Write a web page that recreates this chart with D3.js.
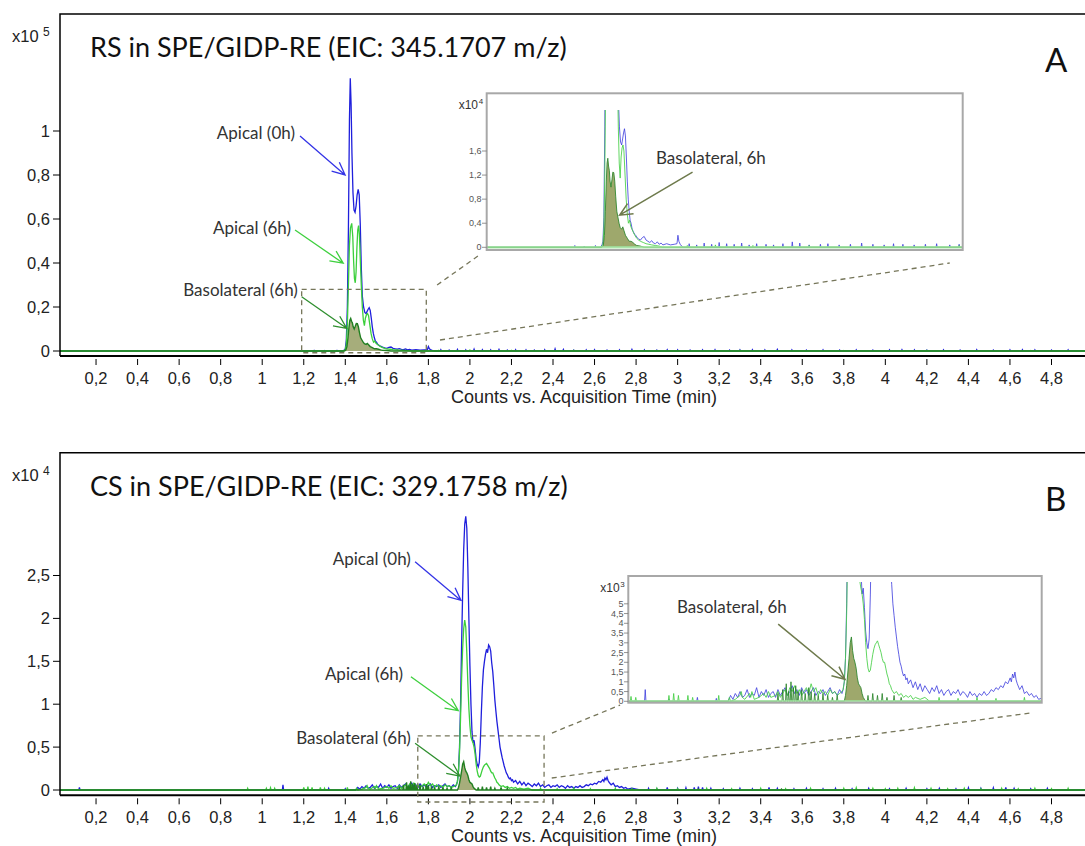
<!DOCTYPE html>
<html>
<head>
<meta charset="utf-8">
<script src="https://d3js.org/d3.v7.min.js"></script>
<style>
  body { margin: 0; background: #fff; }
  svg { display: block; }
  .tick { font-family: "Liberation Sans", Arial, sans-serif; font-size: 16.5px; fill: #222; }
  .axis-title { font-family: "Liberation Sans", Arial, sans-serif; font-size: 18px; fill: #222; }
  .title { font-family: Lato, sans-serif; font-size: 27px; fill: #111; }
  .letter { font-family: Lato, sans-serif; font-size: 33px; fill: #111; }
  .note { font-family: Lato, sans-serif; font-size: 17px; fill: #333; }
  .inset-tick { font-family: "Liberation Sans", Arial, sans-serif; font-size: 9px; fill: #555; }
  .inset-exp { font-family: "Liberation Sans", Arial, sans-serif; font-size: 12px; fill: #333; }
  .inset-note { font-family: Lato, sans-serif; font-size: 17px; fill: #333; }
</style>
</head>
<body>
<svg id="chart" width="1085" height="846"></svg>
<script>
// ---- axis ticks ----
const xTicks = [0.2, 0.4, 0.6, 0.8, 1, 1.2, 1.4, 1.6, 1.8, 2, 2.2, 2.4, 2.6, 2.8, 3, 3.2, 3.4, 3.6, 3.8, 4, 4.2, 4.4, 4.6, 4.8];
const yTicksA = [0, 0.2, 0.4, 0.6, 0.8, 1];
const yTicksB = [0, 0.5, 1, 1.5, 2, 2.5];
const insetTicksA = [0, 0.4, 0.8, 1.2, 1.6];
const insetTicksB = [0, 0.5, 1, 1.5, 2, 2.5, 3, 3.5, 4, 4.5, 5];
const titleA = "RS in SPE/GIDP-RE (EIC: 345.1707 m/z)";
const titleB = "CS in SPE/GIDP-RE (EIC: 329.1758 m/z)";
const xTitle = "Counts vs. Acquisition Time (min)";

// ---- panel A, counts x10^5, [time, value] ----
const blueA = [[1.385,0],[1.395,0.004],[1.400,0.010],[1.405,0.050],[1.410,0.200],[1.415,0.550],[1.420,1.050],[1.424,1.240],[1.428,1.120],[1.432,0.900],[1.437,0.720],[1.442,0.640],[1.447,0.630],[1.452,0.660],[1.457,0.710],[1.462,0.735],[1.467,0.710],[1.472,0.580],[1.477,0.380],[1.482,0.250],[1.488,0.200],[1.494,0.175],[1.500,0.170],[1.505,0.180],[1.510,0.190],[1.515,0.197],[1.520,0.185],[1.525,0.150],[1.530,0.110],[1.535,0.080],[1.540,0.060],[1.545,0.045],[1.550,0.040],[1.556,0.030],[1.562,0.026],[1.568,0.022],[1.575,0.020],[1.582,0.016],[1.590,0.014],[1.600,0.012],[1.610,0.016],[1.620,0.018],[1.630,0.012],[1.640,0.010],[1.650,0.008],[1.660,0.011],[1.670,0.007],[1.680,0.006],[1.690,0.009],[1.700,0.005],[1.710,0.007],[1.720,0.004],[1.740,0.006],[1.760,0.004],[1.780,0.005],[1.795,0.006],[1.800,0.020],[1.805,0.010],[1.812,0.005],[1.820,0.002],[1.830,0]];
const blueANoise = [[1.25,0.003],[1.30,0.002],[1.36,0.003],[1.86,0.006],[1.90,0.004],[1.94,0.007],[1.98,0.005],[2.02,0.008],[2.06,0.006],[2.10,0.005],[2.14,0.007],[2.18,0.004],[2.22,0.006],[2.27,0.005],[2.31,0.004],[2.36,0.006],[2.41,0.009],[2.45,0.007],[2.50,0.004],[2.56,0.005],[2.60,0.006],[2.66,0.004],[2.72,0.005],[2.78,0.007],[2.84,0.005],[2.90,0.004],[2.95,0.006],[3.00,0.005],[3.06,0.004],[3.12,0.005],[3.18,0.006],[3.25,0.004],[3.30,0.005],[3.36,0.006],[3.42,0.005],[3.48,0.007],[3.55,0.005],[3.62,0.004],[3.70,0.005],[3.78,0.004],[3.86,0.005],[3.94,0.004],[4.02,0.005],[4.08,0.006],[4.14,0.005],[4.20,0.004],[4.28,0.005],[4.36,0.004],[4.44,0.006],[4.52,0.004],[4.60,0.005],[4.66,0.006],[4.72,0.005],[4.80,0.004],[4.88,0.005]];
const greenA = [[1.390,0],[1.400,0.005],[1.405,0.030],[1.410,0.120],[1.415,0.300],[1.420,0.480],[1.425,0.560],[1.431,0.580],[1.436,0.520],[1.440,0.410],[1.444,0.330],[1.448,0.310],[1.452,0.360],[1.456,0.470],[1.460,0.550],[1.464,0.570],[1.468,0.530],[1.472,0.420],[1.477,0.300],[1.482,0.200],[1.487,0.140],[1.492,0.115],[1.497,0.150],[1.502,0.165],[1.507,0.170],[1.512,0.160],[1.518,0.120],[1.524,0.080],[1.530,0.055],[1.536,0.040],[1.542,0.045],[1.548,0.035],[1.555,0.030],[1.562,0.025],[1.570,0.020],[1.580,0.015],[1.590,0.012],[1.600,0.010],[1.615,0.008],[1.630,0.006],[1.645,0.005],[1.660,0.004],[1.680,0.003],[1.700,0.002],[1.720,0]];
const greenANoise = [[1.85,0.003],[2.00,0.004],[2.20,0.003],[2.50,0.003],[2.90,0.002],[3.30,0.003],[3.80,0.002],[4.20,0.003],[4.70,0.002]];
const darkA = [[1.395,0],[1.402,0.003],[1.408,0.020],[1.413,0.060],[1.418,0.110],[1.422,0.140],[1.426,0.148],[1.430,0.135],[1.434,0.128],[1.438,0.110],[1.443,0.100],[1.448,0.112],[1.453,0.125],[1.458,0.124],[1.463,0.110],[1.468,0.085],[1.474,0.060],[1.480,0.050],[1.486,0.040],[1.492,0.033],[1.500,0.030],[1.506,0.034],[1.512,0.028],[1.520,0.020],[1.530,0.015],[1.540,0.010],[1.550,0.010],[1.560,0.008],[1.570,0.005],[1.580,0.003],[1.600,0.002],[1.620,0]];
const darkANoise = [];

// ---- panel B, counts x10^4, [time, value] ----
const blueB = [[1.450,0],[1.460,0.03],[1.470,0.01],[1.480,0.04],[1.490,0.02],[1.500,0.05],[1.510,0.02],[1.520,0.03],[1.530,0.06],[1.540,0.02],[1.550,0.04],[1.560,0.03],[1.570,0.07],[1.580,0.02],[1.590,0.05],[1.600,0.03],[1.610,0.06],[1.620,0.02],[1.630,0.04],[1.640,0.05],[1.650,0.02],[1.660,0.06],[1.670,0.03],[1.680,0.05],[1.690,0.07],[1.700,0.03],[1.710,0.05],[1.720,0.08],[1.730,0.04],[1.740,0.06],[1.750,0.03],[1.760,0.07],[1.770,0.04],[1.780,0.06],[1.790,0.03],[1.800,0.05],[1.810,0.07],[1.820,0.03],[1.830,0.05],[1.840,0.04],[1.850,0.06],[1.860,0.03],[1.870,0.05],[1.880,0.07],[1.890,0.04],[1.900,0.05],[1.910,0.03],[1.920,0.06],[1.930,0.04],[1.935,0.06],[1.940,0.10],[1.945,0.22],[1.950,0.50],[1.955,1.00],[1.960,1.70],[1.965,2.30],[1.970,2.80],[1.975,3.10],[1.980,3.19],[1.985,3.05],[1.990,2.60],[1.995,2.00],[2.000,1.45],[2.005,1.00],[2.010,0.68],[2.015,0.55],[2.020,0.58],[2.025,0.48],[2.030,0.36],[2.035,0.30],[2.040,0.27],[2.045,0.32],[2.050,0.55],[2.055,0.90],[2.060,1.20],[2.065,1.40],[2.070,1.50],[2.075,1.58],[2.080,1.64],[2.085,1.60],[2.090,1.69],[2.095,1.67],[2.100,1.62],[2.105,1.48],[2.110,1.38],[2.115,1.22],[2.120,1.05],[2.125,0.92],[2.130,0.80],[2.135,0.70],[2.140,0.60],[2.145,0.50],[2.150,0.44],[2.155,0.38],[2.160,0.33],[2.165,0.28],[2.170,0.24],[2.175,0.20],[2.180,0.18],[2.185,0.15],[2.190,0.13],[2.195,0.14],[2.200,0.11],[2.205,0.12],[2.210,0.09],[2.220,0.11],[2.230,0.07],[2.240,0.10],[2.250,0.06],[2.260,0.09],[2.270,0.05],[2.280,0.08],[2.290,0.06],[2.300,0.04],[2.310,0.07],[2.320,0.05],[2.330,0.08],[2.340,0.04],[2.350,0.06],[2.360,0.03],[2.370,0.05],[2.380,0.06],[2.390,0.03],[2.400,0.05],[2.410,0.04],[2.420,0.06],[2.430,0.03],[2.440,0.05],[2.450,0.04],[2.460,0.02],[2.470,0.05],[2.480,0.03],[2.490,0.04],[2.500,0.02],[2.510,0.04],[2.520,0.03],[2.530,0.05],[2.540,0.03],[2.550,0.04],[2.560,0.06],[2.570,0.05],[2.580,0.07],[2.590,0.06],[2.600,0.08],[2.610,0.07],[2.620,0.10],[2.630,0.09],[2.640,0.12],[2.645,0.10],[2.650,0.14],[2.655,0.12],[2.660,0.15],[2.665,0.11],[2.670,0.09],[2.680,0.06],[2.690,0.08],[2.700,0.04],[2.710,0.05],[2.720,0.03],[2.730,0.04],[2.740,0.02],[2.750,0.03],[2.760,0.01],[2.780,0.02],[2.800,0.01],[2.820,0]];
const blueBNoise = [[0.12,0.03],[1.10,0.06],[1.20,0.01],[1.32,0.02],[1.40,0.015],[2.86,0.02],[2.90,0.015],[2.95,0.03],[3.00,0.02],[3.04,0.025],[3.08,0.03],[3.10,0.04],[3.12,0.03],[3.16,0.02],[3.22,0.015],[3.30,0.02],[3.36,0.015],[3.44,0.03],[3.48,0.02],[3.56,0.015],[3.62,0.02],[3.70,0.015],[3.76,0.02],[3.84,0.015],[3.92,0.02],[4.02,0.015],[4.10,0.02],[4.20,0.015],[4.26,0.02],[4.34,0.015],[4.40,0.025],[4.46,0.02],[4.52,0.025],[4.58,0.03],[4.62,0.02],[4.70,0.015],[4.78,0.02]];
const greenB = [[1.450,0],[1.455,0.02],[1.460,0],[1.480,0.01],[1.500,0.03],[1.505,0.05],[1.510,0.02],[1.520,0.01],[1.540,0.04],[1.545,0.02],[1.550,0.05],[1.560,0.01],[1.580,0.02],[1.600,0.04],[1.610,0.02],[1.620,0.05],[1.630,0.02],[1.650,0.03],[1.660,0.05],[1.670,0.02],[1.680,0.04],[1.690,0.06],[1.700,0.03],[1.710,0.07],[1.720,0.05],[1.730,0.08],[1.740,0.04],[1.750,0.06],[1.760,0.03],[1.770,0.05],[1.780,0.07],[1.790,0.04],[1.800,0.09],[1.810,0.05],[1.820,0.07],[1.830,0.03],[1.840,0.06],[1.850,0.04],[1.860,0.05],[1.870,0.03],[1.880,0.06],[1.890,0.04],[1.900,0.05],[1.910,0.03],[1.920,0.04],[1.930,0.05],[1.935,0.06],[1.940,0.10],[1.945,0.22],[1.950,0.45],[1.955,0.85],[1.960,1.30],[1.965,1.65],[1.970,1.88],[1.975,1.98],[1.980,1.90],[1.985,1.60],[1.990,1.25],[1.995,0.95],[2.000,0.75],[2.005,0.62],[2.010,0.58],[2.015,0.55],[2.020,0.50],[2.025,0.42],[2.030,0.30],[2.035,0.22],[2.040,0.17],[2.045,0.15],[2.050,0.16],[2.055,0.20],[2.060,0.24],[2.065,0.27],[2.070,0.29],[2.075,0.30],[2.080,0.31],[2.085,0.29],[2.090,0.27],[2.095,0.25],[2.100,0.22],[2.105,0.20],[2.110,0.20],[2.115,0.17],[2.120,0.14],[2.125,0.12],[2.130,0.09],[2.135,0.08],[2.140,0.06],[2.150,0.04],[2.160,0.05],[2.170,0.03],[2.180,0.04],[2.190,0.02],[2.200,0.03],[2.210,0.02],[2.220,0.03],[2.230,0.01],[2.240,0.02],[2.260,0.01],[2.280,0.02],[2.300,0]];
const greenBNoise = [[0.93,0.02],[1.02,0.02],[1.04,0.025],[1.06,0.02],[1.20,0.03],[1.22,0.04],[1.24,0.03],[1.28,0.03],[1.30,0.02],[1.41,0.03],[2.34,0.02],[2.42,0.015],[2.50,0.02],[2.58,0.015],[2.70,0.02],[2.78,0.015],[2.90,0.02],[3.00,0.015],[3.14,0.02],[3.26,0.015],[3.40,0.02],[3.52,0.015],[3.64,0.02],[3.80,0.02],[3.86,0.025],[3.94,0.02],[4.00,0.015],[4.06,0.02],[4.14,0.025],[4.22,0.02],[4.30,0.015],[4.38,0.02],[4.46,0.015],[4.56,0.02],[4.64,0.015],[4.72,0.02],[4.80,0.015],[4.88,0.02]];
const darkB = [[1.940,0],[1.945,0.03],[1.950,0.08],[1.955,0.15],[1.960,0.22],[1.965,0.30],[1.970,0.33],[1.975,0.26],[1.980,0.22],[1.985,0.20],[1.990,0.17],[1.995,0.12],[2.000,0.09],[2.005,0.08],[2.010,0.07],[2.015,0.04],[2.020,0.02],[2.025,0.01],[2.030,0]];
const darkBNoise = [[1.66,0.04],[1.68,0.06],[1.695,0.09],[1.705,0.05],[1.715,0.10],[1.725,0.07],[1.735,0.08],[1.745,0.05],[1.76,0.06],[1.775,0.04],[1.79,0.07],[1.80,0.05],[1.815,0.04],[1.83,0.03],[1.85,0.04],[1.87,0.03],[1.89,0.02],[1.91,0.03],[2.04,0.03],[2.06,0.04],[2.08,0.03],[2.10,0.04],[2.12,0.02],[2.15,0.03],[2.18,0.02],[3.10,0.01],[3.50,0.01]];

// ---- drawing ----
const BLUE = "#1f1fdc", GREEN = "#3ccf3c", DARK = "#217f21", FILL = "#a6ad7b", OLIVE = "#6e7a4c", DASH = "#76765a";
const T0 = 0.0265, T1 = 4.9615;
const fmt = v => String(v).replace(".", ",");

// turn peak profile + single noise spikes into one sorted trace
function buildSeries(profile, spikes) {
  const lo = profile[0][0], hi = profile[profile.length - 1][0];
  const pts = profile.slice();
  spikes.forEach(([t, h]) => {
    if (t > lo - 0.005 && t < hi + 0.005) return;
    pts.push([t - 0.003, 0], [t, h], [t + 0.003, 0]);
  });
  pts.push([T0, 0], [T1, 0]);
  return pts.sort((a, b) => a[0] - b[0]);
}

function arrow(g, p0, p1, color, width) {
  const ang = Math.atan2(p1[1] - p0[1], p1[0] - p0[0]);
  const len = 14, spread = 25 * Math.PI / 180;
  const w1 = [p1[0] - len * Math.cos(ang - spread), p1[1] - len * Math.sin(ang - spread)];
  const w2 = [p1[0] - len * Math.cos(ang + spread), p1[1] - len * Math.sin(ang + spread)];
  g.append("path").attr("d", `M${p0}L${p1}M${w1}L${p1}L${w2}`)
    .attr("fill", "none").attr("stroke", color).attr("stroke-width", width);
}

const svg = d3.select("#chart");
const x = d3.scaleLinear().domain([0, 4.8]).range([54.5, 1051.5]);

const panels = [
  { id: "A", top: 14, axisY: 356, y: d3.scaleLinear().domain([0, 1]).range([351, 131]),
    yTicks: yTicksA, exp: "5", title: titleA,
    blue: buildSeries(blueA, blueANoise), green: buildSeries(greenA, greenANoise),
    dark: buildSeries(darkA, darkANoise), peak: darkA,
    notes: [
      { text: "Apical (0h)", at: [1.158, 0.99], from: [1.182, 0.977], to: [1.399, 0.80], color: "#3434e6" },
      { text: "Apical (6h)", at: [1.139, 0.559], from: [1.158, 0.55], to: [1.39, 0.399], color: "#3fd03f" },
      { text: "Basolateral (6h)", at: [1.172, 0.277], from: [1.19, 0.247], to: [1.407, 0.103], color: "#2f8f2f" }
    ],
    box: [1.19, 1.79, -0.008, 0.28],
    links: [[[1.842, 0.30], [2.039, 0.432]], [[1.856, 0.05], [4.31, 0.40]]],
    inset: { x0: 486.7, x1: 962.7, y0: 93.3, y1: 250, clipTop: 110, tDom: [0.78, 3.319],
      yZero: 247.3, yTop: 151, yMax: 1.6, ticks: insetTicksA, exp: "4", tickRight: 482,
      note: { at: [1.683, 1.487], from: [1.878, 1.25], to: [1.489, 0.533] } } },
  { id: "B", top: 452.7, axisY: 795.3, y: d3.scaleLinear().domain([0, 2.5]).range([790, 575.5]),
    yTicks: yTicksB, exp: "4", title: titleB,
    blue: buildSeries(blueB, blueBNoise), green: buildSeries(greenB, greenBNoise),
    dark: buildSeries(darkB, darkBNoise), peak: darkB,
    notes: [
      { text: "Apical (0h)", at: [1.716, 2.69], from: [1.736, 2.66], to: [1.957, 2.21], color: "#3434e6" },
      { text: "Apical (6h)", at: [1.678, 1.35], from: [1.716, 1.32], to: [1.944, 0.924], color: "#3fd03f" },
      { text: "Basolateral (6h)", at: [1.716, 0.61], from: [1.736, 0.544], to: [1.952, 0.163], color: "#2f8f2f" }
    ],
    box: [1.749, 2.357, -0.14, 0.63],
    links: [[[2.395, 0.664], [2.723, 0.99]], [[2.394, 0.14], [4.705, 0.90]]],
    inset: { x0: 628.3, x1: 1041.7, y0: 576, y1: 702.7, clipTop: 582, tDom: [1.0285, 2.773],
      yZero: 701.3, yTop: 603.8, yMax: 5, ticks: insetTicksB, exp: "3", tickRight: 624,
      note: { at: [1.234, 4.85], from: [1.661, 3.96], to: [1.943, 1.13] } } }
];

panels.forEach(p => {
  const g = svg.append("g");
  const y = p.y;
  const clipId = "clip" + p.id;
  g.append("clipPath").attr("id", clipId).append("rect")
    .attr("x", 60).attr("y", p.top).attr("width", 1025).attr("height", p.axisY - p.top);

  // traces
  const line = d3.line().x(d => x(d[0])).y(d => y(d[1]));
  const area = d3.area().x(d => x(d[0])).y0(y(0)).y1(d => y(d[1]));
  const tr = g.append("g").attr("clip-path", `url(#${clipId})`);
  tr.append("path").datum(p.peak).attr("d", area).attr("fill", FILL);
  tr.append("path").datum(p.blue).attr("d", line).attr("fill", "none").attr("stroke", BLUE).attr("stroke-width", 1.3);
  tr.append("path").datum(p.green).attr("d", line).attr("fill", "none").attr("stroke", GREEN).attr("stroke-width", 1.3);
  tr.append("path").datum(p.dark).attr("d", line).attr("fill", "none").attr("stroke", DARK).attr("stroke-width", 1.4);

  // frame and axes
  g.append("path").attr("d", `M1085,${p.top}H60V${p.axisY}`).attr("fill", "none").attr("stroke", "#000").attr("stroke-width", 1.5);
  g.append("line").attr("x1", 60).attr("x2", 1085).attr("y1", p.axisY).attr("y2", p.axisY).attr("stroke", "#000").attr("stroke-width", 2);
  p.yTicks.forEach(v => {
    g.append("line").attr("x1", 53).attr("x2", 60).attr("y1", y(v)).attr("y2", y(v)).attr("stroke", "#000");
    g.append("text").attr("class", "tick").attr("x", 50).attr("y", y(v)).attr("dy", "0.36em")
      .attr("text-anchor", "end").text(fmt(v));
  });
  xTicks.forEach(t => {
    g.append("line").attr("x1", x(t)).attr("x2", x(t)).attr("y1", p.axisY + 3).attr("y2", p.axisY + 9).attr("stroke", "#000");
    g.append("text").attr("class", "tick").attr("x", x(t)).attr("y", p.axisY + 28)
      .attr("text-anchor", "middle").text(fmt(t));
  });
  g.append("text").attr("class", "axis-title").attr("x", 584).attr("y", p.axisY + 47)
    .attr("text-anchor", "middle").text(xTitle);
  g.append("text").attr("class", "tick").attr("x", 12).attr("y", p.top + 28).text("x10");
  g.append("text").attr("class", "tick").attr("x", 43).attr("y", p.top + 22).style("font-size", "12px").text(p.exp);
  g.append("text").attr("class", "title").attr("x", 90).attr("y", p.top + 43).text(p.title);
  g.append("text").attr("class", "letter").attr("x", 1045).attr("y", p.top + 58).text(p.id);

  // annotations
  p.notes.forEach(n => {
    g.append("text").attr("class", "note").attr("x", x(n.at[0])).attr("y", y(n.at[1])).attr("dy", "0.35em")
      .attr("text-anchor", "end").text(n.text);
    arrow(g, [x(n.from[0]), y(n.from[1])], [x(n.to[0]), y(n.to[1])], n.color, 1.3);
  });

  // zoom box and connector lines
  const [b0, b1, v0, v1] = p.box;
  g.append("rect").attr("x", x(b0)).attr("y", y(v1)).attr("width", x(b1) - x(b0)).attr("height", y(v0) - y(v1))
    .attr("fill", "none").attr("stroke", DASH).attr("stroke-width", 1.3).attr("stroke-dasharray", "5,4");
  p.links.forEach(([a, b]) => {
    g.append("line").attr("x1", x(a[0])).attr("y1", y(a[1])).attr("x2", x(b[0])).attr("y2", y(b[1]))
      .attr("stroke", DASH).attr("stroke-width", 1.3).attr("stroke-dasharray", "5,4");
  });

  // inset
  const s = p.inset;
  const ix = d3.scaleLinear().domain(s.tDom).range([s.x0, s.x1]);
  const iy = d3.scaleLinear().domain([0, s.yMax]).range([s.yZero, s.yTop]);
  const ig = g.append("g");
  ig.append("rect").attr("x", s.x0).attr("y", s.y0).attr("width", s.x1 - s.x0).attr("height", s.y1 - s.y0).attr("fill", "#fff");
  const iclip = "iclip" + p.id;
  ig.append("clipPath").attr("id", iclip).append("rect")
    .attr("x", s.x0).attr("y", s.clipTop).attr("width", s.x1 - s.x0).attr("height", s.y1 - s.clipTop);
  const iline = d3.line().x(d => ix(d[0])).y(d => iy(d[1] * 10));
  const iarea = d3.area().x(d => ix(d[0])).y0(iy(0)).y1(d => iy(d[1] * 10));
  const it = ig.append("g").attr("clip-path", `url(#${iclip})`);
  it.append("path").datum(p.peak).attr("d", iarea).attr("fill", "#9ea86c");
  it.append("path").datum(p.blue).attr("d", iline).attr("fill", "none").attr("stroke", "#3b3bdd").attr("stroke-width", 1).attr("opacity", 0.8);
  it.append("path").datum(p.green).attr("d", iline).attr("fill", "none").attr("stroke", "#45cf45").attr("stroke-width", 1).attr("opacity", 0.85);
  it.append("path").datum(p.dark).attr("d", iline).attr("fill", "none").attr("stroke", "#2a852a").attr("stroke-width", 1).attr("opacity", 0.85);
  it.append("line").attr("x1", s.x0).attr("x2", s.x1).attr("y1", iy(0)).attr("y2", iy(0))
    .attr("stroke", "#9ee39e").attr("stroke-width", 2.5).attr("opacity", 0.8);
  ig.append("rect").attr("x", s.x0).attr("y", s.y0).attr("width", s.x1 - s.x0).attr("height", s.y1 - s.y0)
    .attr("fill", "none").attr("stroke", "#a8a8a8").attr("stroke-width", 2);
  s.ticks.forEach(v => {
    ig.append("line").attr("x1", s.tickRight).attr("x2", s.x0).attr("y1", iy(v)).attr("y2", iy(v)).attr("stroke", "#777").attr("stroke-width", 0.8);
    ig.append("text").attr("class", "inset-tick").attr("x", s.tickRight - 0.5).attr("y", iy(v)).attr("dy", "0.35em")
      .attr("text-anchor", "end").text(fmt(v));
  });
  ig.append("text").attr("class", "inset-exp").attr("x", s.x0 - 28).attr("y", s.y0 + 16).text("x10");
  ig.append("text").attr("class", "inset-exp").attr("x", s.x0 - 8).attr("y", s.y0 + 11).style("font-size", "8px").text(s.exp);
  ig.append("text").attr("class", "inset-note").attr("x", ix(s.note.at[0])).attr("y", iy(s.note.at[1])).attr("dy", "0.35em")
    .text("Basolateral, 6h");
  arrow(ig, [ix(s.note.from[0]), iy(s.note.from[1])], [ix(s.note.to[0]), iy(s.note.to[1])], OLIVE, 1.5);
});
</script>
</body>
</html>
